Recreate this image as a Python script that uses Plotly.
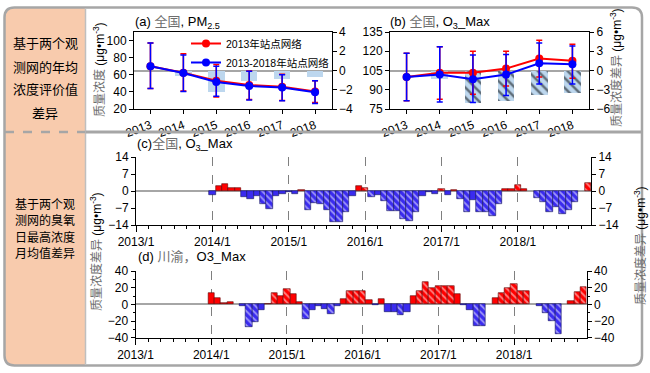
import plotly.graph_objects as go

W, H = 650, 373

# ---------------- data ----------------
years = [2013, 2014, 2015, 2016, 2017, 2018]

# (a) PM2.5 national
pm_net2013 = [70, 62.5, 53, 48, 46, 40.5]
pm_net2013_hi = [97, 84.5, 72, 64.5, 60.5, 53]
pm_net2013_lo = [44, 41, 34, 31, 30, 27.5]
pm_netall = [70, 62, 51.5, 47, 45, 39.5]
pm_netall_hi = [97, 83, 70, 64, 60, 53]
pm_netall_lo = [44, 40.5, 35, 30.5, 29.5, 26.5]
pm_diff = [0, -0.52, -2.25, -1.1, -0.87, -0.66]
pm_diff_sig = [0, 0, 0, 0, 0, 0]

# (b) O3_Max national
o3_net2013 = [100, 103.3, 103.3, 106.5, 114.3, 112.6]
o3_net2013_hi = [118.5, 123.5, 120, 120, 128.5, 125.5]
o3_net2013_lo = [81.5, 82.5, 86.5, 93, 100, 99]
o3_netall = [100, 101.8, 98.2, 101.8, 110.6, 109.8]
o3_netall_hi = [118.5, 123.5, 117, 117.5, 126.5, 124]
o3_netall_lo = [81.5, 80.5, 80, 85.5, 94.5, 94.5]
o3_diff = [0, -1.4, -5.0, -4.8, -3.85, -3.5]
o3_diff_sig = [0, 0, 1, 1, 1, 1]

# months 2013/1 .. 2018/12
month_index = list(range(72))
month_ticks = [0, 12, 24, 36, 48, 60]
month_ticktext = ["2013/1", "2014/1", "2015/1", "2016/1", "2017/1", "2018/1"]

# (c) national monthly O3_Max difference
c_diff = ([0] * 12 +
          [-1.7, 2.0, 2.8, 1.4, 1.4, -2.4, -3.2, -2.1, -5.5, -7.6, -2.1, -1.4] +
          [-0.5, -1.2, 0.4, -7.9, -5.0, -5.5, -8.0, -12.6, -12.6, -8.7, -2.1, 2.0] +
          [1.3, -2.3, -1.8, -4.1, -8.2, -8.2, -11.6, -12.5, -8.6, -1.9, -0.4, -1.1] +
          [1.0, -1.7, 0.5, -3.3, -8.8, -3.8, -8.5, -8.5, -10.1, -5.5, 0.8, 0.8] +
          [2.5, 1.0, 0, -2.8, -4.5, -8.7, -6.6, -9.4, -8.0, -4.5, 0, 3.2])
c_sig = ([0] * 12 +
         [0, 0, 0, 0, 0, 0, 0, 0, 1, 1, 0, 0] +
         [0, 0, 0, 1, 1, 1, 1, 1, 1, 1, 0, 0] +
         [1, 1, 0, 1, 1, 1, 1, 1, 1, 0, 0, 0] +
         [1, 0, 0, 1, 1, 0, 1, 1, 1, 1, 0, 0] +
         [1, 0, 0, 1, 1, 1, 1, 1, 1, 1, 0, 1])

# (d) Sichuan-Chongqing monthly O3_Max difference
d_diff = ([0] * 12 +
          [13.2, 7.6, 1.2, 3.2, 0, -2.4, -26.8, -20.8, -6.8, 0.8, 14, 10] +
          [18, 12, 2.8, -17.6, -6.8, -2, -5.2, -12, -2.4, 7, 16.5, 16.5] +
          [16.5, 5, -1, 6.5, -9.5, -9.5, -12.8, -9.5, 9.5, 16.5, 26.5, 19.5] +
          [22.5, 21.5, 21.5, 12, -1, -6.8, -26, -26, 0, 7.2, 14, 20] +
          [24, 16.4, 16.4, 0, -2, -10, -19.6, -35.6, 0, 4.4, 15.2, 20.5])
d_sig = ([0] * 12 +
         [0, 0, 0, 0, 0, 0, 1, 1, 0, 0, 1, 0] +
         [1, 0, 0, 1, 0, 0, 0, 1, 0, 0, 1, 1] +
         [1, 0, 0, 0, 0, 0, 1, 0, 0, 1, 1, 1] +
         [1, 1, 1, 0, 0, 0, 1, 1, 0, 0, 1, 1] +
         [1, 1, 1, 0, 0, 1, 1, 1, 0, 0, 1, 1])

name_2013 = "2013年站点网络"
name_all = "2013-2018年站点网络"
box1_lines = ["基于两个观", "测网的年均", "浓度评价值", "差异"]
box2_lines = ["基于两个观", "测网的臭氧", "日最高浓度", "月均值差异"]

# ---------------- style ----------------
RED = "#FF0000"
BLUE = "#0000FF"
BAR_BLUE = "#3A2BEF"
LIGHT = "#BDD7EE"
GRID = "#7F7F7F"
ZERO = "#A6A6A6"
FONT = "Arial, Liberation Sans, Noto Sans CJK SC, sans-serif"
CJK = "Noto Sans CJK SC, sans-serif"
GRAY_TXT = "#6E6E6E"


def X(px):
    return px / W


def Y(py):
    return 1 - py / H


fig = go.Figure()


def err(v, hi, lo, color):
    return dict(type="data", symmetric=False,
                array=[h - a for h, a in zip(hi, v)],
                arrayminus=[a - l for a, l in zip(v, lo)],
                color=color, thickness=1.5, width=3)


# ---- panel (a)
fig.add_trace(go.Bar(x=years, y=pm_diff, xaxis="x", yaxis="y", width=0.5,
                     marker=dict(color=LIGHT, line_width=0,
                                 pattern=dict(shape=["\\" if s else "" for s in pm_diff_sig],
                                              fillmode="overlay", fgcolor="black",
                                              size=7, solidity=0.35)),
                     showlegend=False, hoverinfo="skip"))
fig.add_trace(go.Scatter(x=years, y=pm_net2013, xaxis="x", yaxis="y2", name=name_2013,
                         mode="lines+markers", line=dict(color=RED, width=2),
                         marker=dict(color=RED, size=8),
                         error_y=err(pm_net2013, pm_net2013_hi, pm_net2013_lo, RED)))
fig.add_trace(go.Scatter(x=years, y=pm_netall, xaxis="x", yaxis="y2", name=name_all,
                         mode="lines+markers", line=dict(color=BLUE, width=2),
                         marker=dict(color=BLUE, size=8),
                         error_y=err(pm_netall, pm_netall_hi, pm_netall_lo, BLUE)))

# ---- panel (b)
fig.add_trace(go.Bar(x=years, y=o3_diff, xaxis="x2", yaxis="y3", width=0.5,
                     marker=dict(color=LIGHT, line_width=0,
                                 pattern=dict(shape=["\\" if s else "" for s in o3_diff_sig],
                                              fillmode="overlay", fgcolor="black",
                                              size=7, solidity=0.35)),
                     showlegend=False, hoverinfo="skip"))
fig.add_trace(go.Scatter(x=years, y=o3_net2013, xaxis="x2", yaxis="y4", showlegend=False,
                         mode="lines+markers", line=dict(color=RED, width=2),
                         marker=dict(color=RED, size=8),
                         error_y=err(o3_net2013, o3_net2013_hi, o3_net2013_lo, RED)))
fig.add_trace(go.Scatter(x=years, y=o3_netall, xaxis="x2", yaxis="y4", showlegend=False,
                         mode="lines+markers", line=dict(color=BLUE, width=2),
                         marker=dict(color=BLUE, size=8),
                         error_y=err(o3_netall, o3_netall_hi, o3_netall_lo, BLUE)))


def monthly_bars(vals, sig, xa, ya_pos, ya_neg):
    pos = [v if v > 0 else None for v in vals]
    neg = [v if v < 0 else None for v in vals]
    shapes = ["\\" if s else "" for s in sig]
    fig.add_trace(go.Bar(x=month_index, y=pos, xaxis=xa, yaxis=ya_pos, width=1,
                         marker=dict(color=RED, line=dict(color="#5a0000", width=0.6),
                                     pattern=dict(shape=shapes, fillmode="overlay",
                                                  fgcolor="white", size=5, solidity=0.35)),
                         showlegend=False, hoverinfo="skip"))
    fig.add_trace(go.Bar(x=month_index, y=neg, xaxis=xa, yaxis=ya_neg, width=1,
                         marker=dict(color=BAR_BLUE, line=dict(color="#10105a", width=0.6),
                                     pattern=dict(shape=shapes, fillmode="overlay",
                                                  fgcolor="white", size=5, solidity=0.35)),
                         showlegend=False, hoverinfo="skip"))


monthly_bars(c_diff, c_sig, "x3", "y5", "y6")
monthly_bars(d_diff, d_sig, "x4", "y7", "y8")

# ---------------- axes ----------------
tickfont = dict(family=FONT, size=12, color="black")
ax_common = dict(showline=True, linecolor="black", linewidth=1, ticks="outside",
                 ticklen=4, tickcolor="black", tickfont=tickfont, showgrid=False,
                 zeroline=False)

top_dom = [Y(109), Y(32)]

layout_axes = dict(
    xaxis=dict(ax_common, domain=[X(134), X(331.5)], range=[2012.5, 2018.5], anchor="y",
               tickvals=years, tickangle=-20, mirror=True),
    yaxis=dict(ax_common, domain=top_dom, range=[-4, 4], tickvals=[-4, -2, 0, 2, 4],
               side="right", anchor="x", zeroline=True, zerolinecolor=ZERO, zerolinewidth=1.5),
    yaxis2=dict(ax_common, range=[20, 110], tickvals=[20, 40, 60, 80, 100], side="left",
                overlaying="y", anchor="x"),
    xaxis2=dict(ax_common, domain=[X(390), X(589)], range=[2012.5, 2018.5], anchor="y3",
                tickvals=years, tickangle=-20, mirror=True),
    yaxis3=dict(ax_common, domain=top_dom, range=[-6, 6], tickvals=[-6, -3, 0, 3, 6],
                side="right", anchor="x2", zeroline=True, zerolinecolor=ZERO, zerolinewidth=1.5),
    yaxis4=dict(ax_common, range=[75, 135], tickvals=[75, 90, 105, 120, 135], side="left",
                overlaying="y3", anchor="x2"),
    xaxis3=dict(ax_common, domain=[X(136), X(591)], range=[0, 71.5], anchor="y5",
                tickvals=month_ticks, ticktext=month_ticktext, ticklen=6,
                showgrid=True, gridcolor=GRID, griddash="dash", gridwidth=1,
                minor=dict(dtick=2, tick0=0, ticks="outside", ticklen=3, tickcolor="black",
                           showgrid=False)),
    yaxis5=dict(ax_common, domain=[Y(225), Y(157)], range=[-14, 14],
                tickvals=[-14, -7, 0, 7, 14], side="left", anchor="x3",
                zeroline=True, zerolinecolor=ZERO, zerolinewidth=1.5),
    yaxis6=dict(ax_common, range=[-14, 14], tickvals=[-14, -7, 0, 7, 14], side="right",
                overlaying="y5", anchor="x3"),
    xaxis4=dict(ax_common, domain=[X(135.5), X(586.7)], range=[0, 71.5], anchor="y7",
                tickvals=month_ticks, ticktext=month_ticktext, ticklen=6,
                showgrid=True, gridcolor=GRID, griddash="dash", gridwidth=1,
                minor=dict(dtick=2, tick0=0, ticks="outside", ticklen=3, tickcolor="black",
                           showgrid=False)),
    yaxis7=dict(ax_common, domain=[Y(337.7), Y(271)], range=[-40, 40],
                tickvals=[-40, -20, 0, 20, 40], side="left", anchor="x4",
                zeroline=True, zerolinecolor=ZERO, zerolinewidth=1.5,
                minor=dict(dtick=10, ticks="outside", ticklen=2, tickcolor="black")),
    yaxis8=dict(ax_common, range=[-40, 40], tickvals=[-40, -20, 0, 20, 40], side="right",
                overlaying="y7", anchor="x4",
                minor=dict(dtick=10, ticks="outside", ticklen=2, tickcolor="black")),
)

# ---------------- frame shapes ----------------
def rrect_path(x0, y0, x1, y1, r, tl=True, tr=True, br=True, bl=True):
    def P(x, y):
        return f"{X(x):.5f},{Y(y):.5f}"
    p = "M " + P(x0 + (r if tl else 0), y0)
    p += " L " + P(x1 - (r if tr else 0), y0)
    if tr:
        p += " Q " + P(x1, y0) + " " + P(x1, y0 + r)
    p += " L " + P(x1, y1 - (r if br else 0))
    if br:
        p += " Q " + P(x1, y1) + " " + P(x1 - r, y1)
    p += " L " + P(x0 + (r if bl else 0), y1)
    if bl:
        p += " Q " + P(x0, y1) + " " + P(x0, y1 - r)
    p += " L " + P(x0, y0 + (r if tl else 0))
    if tl:
        p += " Q " + P(x0, y0) + " " + P(x0 + r, y0)
    return p + " Z"


shapes = [
    dict(type="path", path=rrect_path(5, 8, 85, 365, 10, tr=False, br=False),
         fillcolor="#F8CBAD", line=dict(width=0), xref="paper", yref="paper", layer="below"),
    dict(type="path", path=rrect_path(4.5, 7.5, 642, 365.5, 10),
         fillcolor="rgba(0,0,0,0)", line=dict(color="#A6A6A6", width=2.5),
         xref="paper", yref="paper", layer="above"),
    dict(type="line", x0=X(85.5), x1=X(85.5), y0=Y(8), y1=Y(365), xref="paper", yref="paper",
         line=dict(color="#BFBFBF", width=1.5), layer="above"),
    dict(type="line", x0=X(85.5), x1=X(642), y0=Y(132), y1=Y(132), xref="paper", yref="paper",
         line=dict(color="#A6A6A6", width=3), layer="above"),
    dict(type="line", x0=X(5), x1=X(85), y0=Y(132), y1=Y(132), xref="paper", yref="paper",
         line=dict(color="#A6A6A6", width=2.5, dash="dash"), layer="above"),
]

# ---------------- annotations ----------------
ann = []
for i, t in enumerate(box1_lines):
    ann.append(dict(text=t, x=X(45), y=Y([43, 66, 89, 113][i]), xref="paper", yref="paper",
                    xanchor="center", yanchor="middle",
                    showarrow=False, font=dict(family=CJK, size=13, color="black")))
for i, t in enumerate(box2_lines):
    ann.append(dict(text=t, x=X(45), y=Y([203, 219.5, 236, 252.5][i]), xref="paper", yref="paper",
                    xanchor="center", yanchor="middle",
                    showarrow=False, font=dict(family=CJK, size=12, color="black")))


def gray(t):
    return f'<span style="color:{GRAY_TXT}">{t}</span>'


titles = [
    ("(a) " + gray("全国") + ", PM<sub>2.5</sub>", 133, 22),
    ("(b) " + gray("全国") + ", O<sub>3</sub>_Max", 388, 22),
    ("(c)" + gray("全国") + ", O<sub>3</sub>_Max", 135, 144),
    ("(d) " + gray("川渝，") + "O3_Max", 136, 256),
]
for t, x, y in titles:
    ann.append(dict(text=t, x=X(x), y=Y(y), xref="paper", yref="paper", showarrow=False,
                    xanchor="left", yanchor="middle", font=dict(family=FONT, size=13, color="black")))

unit = " (μg•m<sup>-3</sup>)"
ytitles = [
    (gray("质量浓度") + unit, 99, 70),
    (gray("质量浓度差异") + unit, 616, 68),
    (gray("质量浓度差异") + unit, 96, 252),
    (gray("质量浓度差异") + unit, 640, 246),
]
for t, x, y in ytitles:
    ann.append(dict(text=t, x=X(x), y=Y(y), xref="paper", yref="paper", showarrow=False,
                    textangle=-90, xanchor="center", yanchor="middle",
                    font=dict(family=FONT, size=12, color="black")))

fig.update_layout(
    width=W, height=H, margin=dict(l=0, r=0, t=0, b=0, autoexpand=False),
    paper_bgcolor="white", plot_bgcolor="rgba(0,0,0,0)",
    font=dict(family=FONT, size=12, color="black"),
    barmode="overlay", bargap=0,
    showlegend=True,
    legend=dict(x=X(186), y=Y(29), xanchor="left", yanchor="top", bgcolor="rgba(0,0,0,0)",
                font=dict(family=FONT, size=10.5, color="black"), itemwidth=30, tracegroupgap=0),
    shapes=shapes, annotations=ann,
    **layout_axes,
)

fig.write_html("out.html", config={"displayModeBar": False},
               post_script="document.body.style.margin='0';document.body.style.padding='0';"
                           "document.documentElement.style.overflow='hidden';")
